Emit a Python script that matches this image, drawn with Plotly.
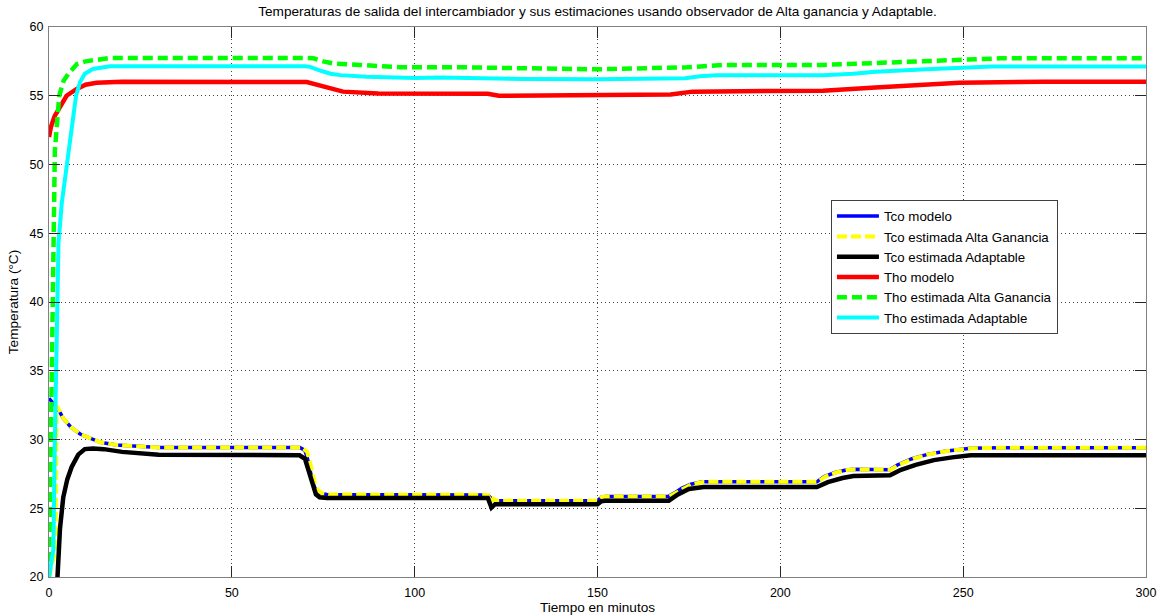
import plotly.graph_objects as go

# Time axis (minutes) and temperatures (°C) for each curve
t_tco_modelo = [0, 1, 2.5, 4, 6, 8.5, 11.2, 14, 18.5, 25, 30, 68.6, 70, 70.8, 71.5, 72.2, 73, 74, 76,
                120, 121, 122, 150, 151, 152, 169.3, 171, 173, 175.5, 178.8, 210, 212, 215, 218, 220,
                230, 232, 236, 240, 245, 252, 260, 300]
tco_modelo = [33.0, 32.7, 32.2, 31.5, 30.9, 30.4, 30.1, 29.8, 29.6, 29.48, 29.42, 29.42, 29.2, 28.5,
              27.6, 26.8, 26.3, 26.1, 26.0, 25.97, 25.7, 25.55, 25.55, 25.8, 25.85, 25.85, 26.1, 26.45,
              26.75, 26.92, 26.92, 27.3, 27.6, 27.78, 27.83, 27.8, 28.15, 28.6, 28.9, 29.15, 29.36,
              29.4, 29.4]

t_tco_ag = [0, 1.8, 2.1, 2.5, 4, 6, 8.5, 11.2, 14, 18.5, 25, 30, 69.2, 70.6, 71.4, 72.1, 72.8, 73.6,
            74.6, 76.5, 120, 120.8, 121.5, 122.5, 150, 151, 152, 169.6, 171.3, 173.3, 175.8, 179.2,
            210.3, 212.3, 215.3, 218.3, 220.3, 230.2, 232.3, 236.3, 240.3, 245.3, 252.3, 260, 300]
tco_ag = [20.0, 22.0, 32.4, 32.3, 31.5, 30.9, 30.4, 30.1, 29.8, 29.6, 29.48, 29.42, 29.42, 29.1, 28.3,
          27.4, 26.7, 26.3, 26.1, 26.0, 25.97, 25.45, 25.7, 25.55, 25.55, 25.8, 25.85, 25.85, 26.1,
          26.45, 26.75, 26.92, 26.92, 27.3, 27.6, 27.78, 27.83, 27.8, 28.15, 28.6, 28.9, 29.15, 29.36,
          29.4, 29.4]

t_tco_adapt = [0, 2.1, 3.0, 3.9, 5, 6.2, 8, 9.8, 12, 15, 20, 30, 50, 68.5, 70, 71, 72, 73, 74, 76,
               120, 121, 122, 150, 151, 152, 169.5, 172, 175, 179, 210, 213, 217, 220, 230, 233, 237,
               242, 247, 252, 260, 300]
tco_adapt = [8.0, 20.0, 23.5, 25.8, 27.1, 28.0, 28.9, 29.3, 29.35, 29.3, 29.1, 28.9, 28.85, 28.85,
             28.6, 27.8, 26.8, 26.0, 25.8, 25.75, 25.75, 25.05, 25.3, 25.3, 25.5, 25.55, 25.55, 26.0,
             26.4, 26.55, 26.55, 26.9, 27.2, 27.35, 27.4, 27.8, 28.15, 28.5, 28.7, 28.85, 28.85, 28.85]

t_tho_modelo = [0, 0.5, 1.5, 3, 4.8, 7.6, 10, 13, 20, 70.5, 75, 80.4, 90, 120, 123, 165, 170, 176,
                211.7, 226, 249, 272, 300]
tho_modelo = [52.0, 52.7, 53.5, 54.2, 55.0, 55.5, 55.8, 55.95, 56.02, 56.0, 55.65, 55.3, 55.17, 55.15,
              55.0, 55.02, 55.1, 55.3, 55.37, 55.6, 55.95, 56.02, 56.02]

t_tho_ag = [0, 0.5, 0.8, 1.1, 1.6, 2.8, 4, 5.3, 7.6, 10, 13, 16.7, 70, 72.3, 75, 77.7, 85, 96, 113,
            149.6, 174.4, 184.3, 211.7, 226, 249, 260, 300]
tho_ag = [20.0, 30.0, 40.0, 46.0, 51.0, 55.0, 56.1, 56.6, 57.3, 57.5, 57.62, 57.75, 57.75, 57.72,
          57.5, 57.35, 57.24, 57.07, 57.07, 56.92, 57.07, 57.24, 57.24, 57.4, 57.65, 57.72, 57.72]

t_tho_adapt = [0, 1.2, 1.6, 1.9, 2.3, 2.6, 3.5, 4.5, 5.6, 6.5, 7.4, 8.5, 9.8, 12, 16.7, 70, 71.4, 74,
               77, 79.6, 86.9, 100, 107, 130, 150, 174, 178, 182.6, 211.7, 220, 226, 240, 249, 258,
               300]
tho_adapt = [20.0, 22.0, 30.0, 35.3, 39.9, 44.3, 47.2, 49.2, 51.0, 53.1, 55.0, 56.0, 56.6, 56.95,
             57.15, 57.15, 57.1, 56.85, 56.6, 56.5, 56.38, 56.3, 56.32, 56.22, 56.2, 56.27, 56.42,
             56.5, 56.5, 56.6, 56.75, 56.92, 56.99, 57.12, 57.12]

FONT = "Liberation Sans, Arial, Helvetica, sans-serif"

series = [
    ("Tco modelo", t_tco_modelo, tco_modelo, "#0000ff", 3.5, "solid"),
    ("Tco estimada Alta Ganancia", t_tco_ag, tco_ag, "#ffff00", 4, "10px,4px"),
    ("Tco estimada Adaptable", t_tco_adapt, tco_adapt, "#000000", 4.5, "solid"),
    ("Tho modelo", t_tho_modelo, tho_modelo, "#ff0000", 4.5, "solid"),
    ("Tho estimada Alta Ganancia", t_tho_ag, tho_ag, "#00ff00", 4.5, "10px,5px"),
    ("Tho estimada Adaptable", t_tho_adapt, tho_adapt, "#00ffff", 4, "solid"),
]

fig = go.Figure()
for name, t, v, color, width, dash in series:
    fig.add_trace(go.Scatter(
        x=t, y=v, mode="lines", name=name,
        line=dict(color=color, width=width, dash=dash),
    ))

axis_common = dict(
    showline=True, linecolor="#808080", linewidth=1, mirror="ticks",
    ticks="inside", ticklen=11, tickcolor="#262626", tickwidth=1,
    showgrid=True, gridcolor="#444444", gridwidth=1, griddash="1px,3px",
    zeroline=False, tickfont=dict(family=FONT, size=12.5, color="#000000"),
)

fig.update_xaxes(
    range=[0, 300], tick0=0, dtick=50, ticklabelstandoff=4, **axis_common,
    title=dict(text="Tiempo en minutos", font=dict(family=FONT, size=13.6, color="#000000"), standoff=3),
)
fig.update_yaxes(
    range=[20, 60], tick0=20, dtick=5, ticklabelstandoff=2, **axis_common,
    title=dict(text="Temperatura (°C)", font=dict(family=FONT, size=13.6, color="#000000"), standoff=7),
)

fig.update_layout(
    width=1159, height=615,
    margin=dict(l=49, r=13, t=27, b=38, autoexpand=False),
    paper_bgcolor="#ffffff", plot_bgcolor="#ffffff",
    font=dict(family=FONT, size=12, color="#000000"),
    title=dict(
        text="Temperaturas de salida del intercambiador y sus estimaciones usando observador de Alta ganancia y Adaptable.",
        x=0.5, xref="paper", xanchor="center", y=1 - 11 / 615, yanchor="middle",
        font=dict(family=FONT, size=13.6, color="#000000"),
    ),
    showlegend=True,
    legend=dict(
        x=0.7128, y=0.6855, xanchor="left", yanchor="top",
        bgcolor="#ffffff", bordercolor="#404040", borderwidth=1,
        font=dict(family=FONT, size=13.3, color="#000000"),
        itemwidth=42, tracegroupgap=0,
    ),
)

fig.write_html("out.html")
